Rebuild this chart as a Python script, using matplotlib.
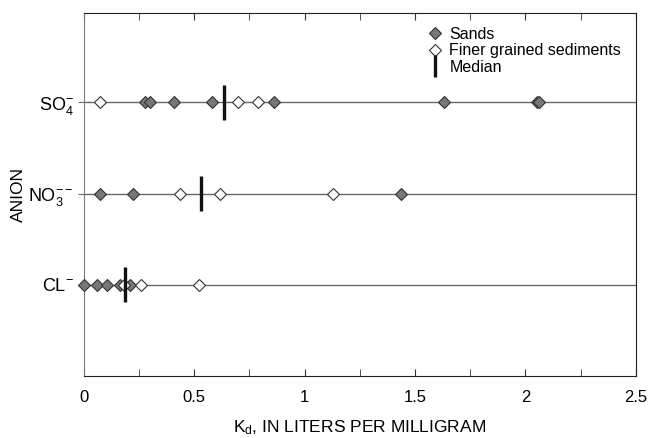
import numpy as np
import matplotlib.pyplot as plt
from matplotlib.lines import Line2D

plt.rcParams['font.family'] = ['Liberation Sans', 'DejaVu Sans']

#############################################################################
## Data (Kd, liters per milligram)

rows = [1, 2, 3]
row_labels = [r'$\mathregular{CL^{-}}$', r'$\mathregular{NO_3^{--}}$', r'$\mathregular{SO_4^{-}}$']

cl_sands = [0.0, 0.06, 0.103, 0.166, 0.208]
cl_fine = [0.182, 0.258, 0.522]
cl_median = 0.185

no3_sands = [0.072, 0.222, 1.436]
no3_fine = [0.436, 0.615, 1.128]
no3_median = 0.529

so4_sands = [0.276, 0.30, 0.407, 0.58, 0.863, 1.63, 2.055, 2.062]
so4_fine = [0.072, 0.70, 0.79]
so4_median = 0.635

sands = [cl_sands, no3_sands, so4_sands]
fine = [cl_fine, no3_fine, so4_fine]
medians = [cl_median, no3_median, so4_median]

#############################################################################

fig = plt.figure(figsize=(6.5, 4.38), dpi=100)
ax = fig.add_axes([0.129, 0.1416, 0.849, 0.8284])

for r in rows:
    ax.axhline(r, color='#666666', lw=1.0, zorder=1)

for r, s, f, m in zip(rows, sands, fine, medians):
    ax.plot(s, [r]*len(s), ls='none', marker='D', ms=6.5, mfc='#777777',
            mec='#333333', mew=0.8, zorder=3, clip_on=False)
    ax.plot(f, [r]*len(f), ls='none', marker='D', ms=6.5, mfc='white',
            mec='#333333', mew=0.8, zorder=3, clip_on=False)
    ax.vlines(m, r - 0.19, r + 0.19, color='#111111', lw=2.4, zorder=4)

ax.set_xlim(0, 2.5)
ax.set_ylim(0, 3.98)
ax.set_xticks([0, 0.5, 1, 1.5, 2, 2.5])
ax.set_xticklabels(['0', '0.5', '1', '1.5', '2', '2.5'])
ax.set_xticks(np.arange(0, 2.51, 0.25), minor=True)
ax.tick_params(axis='x', which='both', direction='in', top=True, length=5,
               labelsize=12, pad=10, color='#333333')
ax.set_yticks(rows)
ax.set_yticklabels(row_labels)
ax.tick_params(axis='y', direction='out', length=4, labelsize=13,
               color='#666666', pad=3)

for side in ['top', 'bottom', 'right']:
    ax.spines[side].set_color('#222222')
ax.spines['left'].set_color('#777777')

ax.set_xlabel(r'$\mathregular{K_d}$, IN LITERS PER MILLIGRAM', fontsize=12.5, labelpad=10)
ax.set_ylabel('ANION', fontsize=12.5, labelpad=2)

handles = [
    Line2D([], [], ls='none', marker='D', ms=6, mfc='#777777', mec='#333333', mew=0.8),
    Line2D([], [], ls='none', marker='D', ms=6, mfc='white', mec='#333333', mew=0.8),
    Line2D([], [], ls='none', marker='|', ms=16, mew=2.4, color='#111111'),
]
ax.legend(handles, ['Sands', 'Finer grained sediments', 'Median'],
          loc='upper right', frameon=False, fontsize=11.5,
          handlelength=1.2, handletextpad=0.3, labelspacing=0.1,
          borderaxespad=0.0, bbox_to_anchor=(0.985, 0.98))

fig.savefig('out.png', dpi=100)
